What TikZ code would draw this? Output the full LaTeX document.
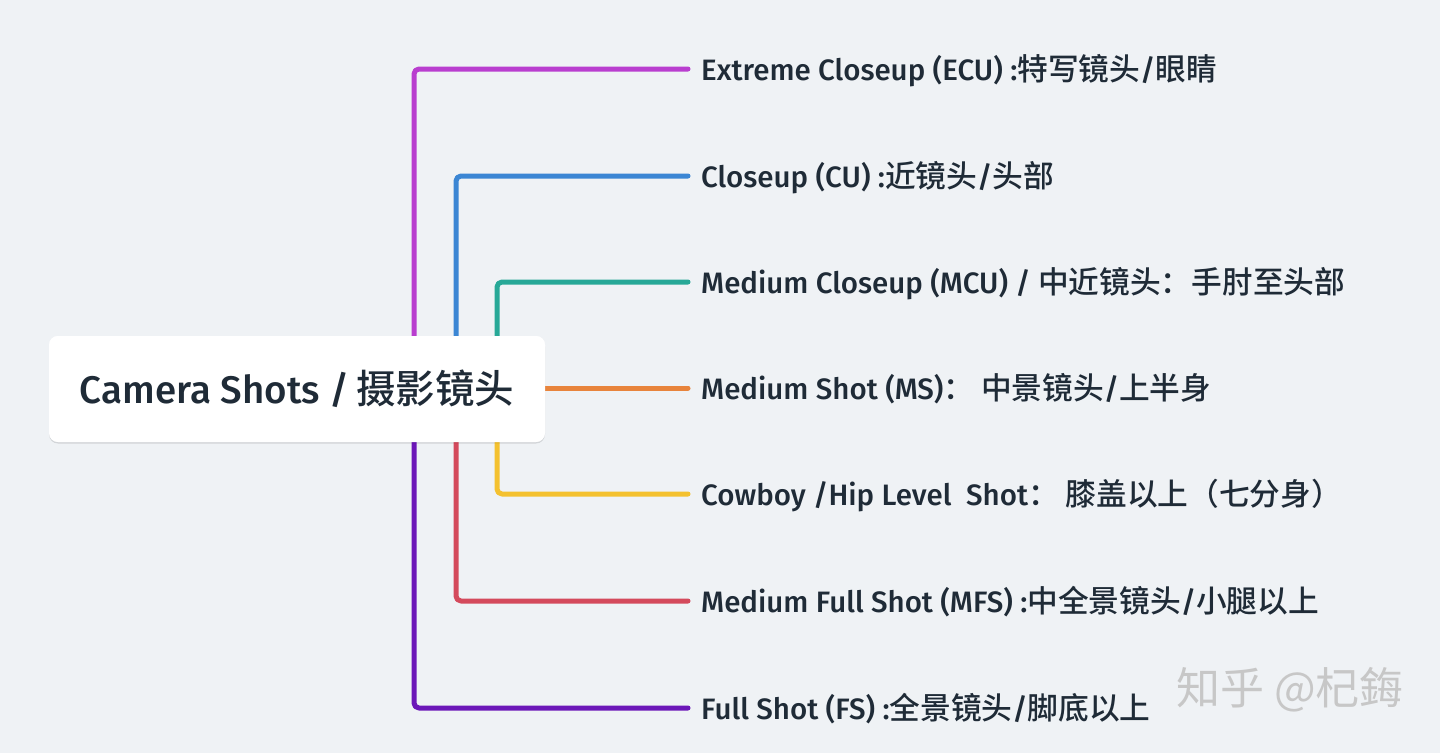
\documentclass[tikz,border=0pt]{standalone}
\usepackage{fontspec}
\setmainfont{Fira Sans}[UprightFont={* Medium}]
\newfontfamily\cjk{Noto Sans CJK SC}[UprightFont={* Medium}]
\newfontfamily\cjkwm{Noto Sans CJK SC}
\usetikzlibrary{shadows}
\definecolor{bg}{HTML}{EFF2F5}
\definecolor{txt}{HTML}{1F2B37}
\definecolor{cA}{HTML}{B93ECF}
\definecolor{cB}{HTML}{3B86D4}
\definecolor{cC}{HTML}{27A897}
\definecolor{cD}{HTML}{E8843C}
\definecolor{cE}{HTML}{F4C12F}
\definecolor{cF}{HTML}{D44A5C}
\definecolor{cG}{HTML}{6C17B8}
\newcommand\zh[1]{{\cjk\fontsize{30.7}{34}\selectfont #1}}
\newcommand\zhroot[1]{{\cjk\fontsize{39.5}{44}\selectfont #1}}
\tikzset{
  lbl/.style={anchor=base west, inner sep=0pt, text=txt, font=\fontsize{29.5}{34}\selectfont},
  branch/.style={line width=5pt, line cap=round, line join=round, rounded corners=5pt},
  rootbox/.style={fill=white, rounded corners=9pt, minimum width=496pt, minimum height=106pt,
    inner sep=0pt, text=txt, font=\fontsize{38.5}{44}\selectfont,
    drop shadow={shadow xshift=0pt, shadow yshift=-1.5pt, opacity=0.06, fill=black}}
}
\begin{document}
\begin{tikzpicture}[x=1pt,y=-1pt]
\fill[bg] (0,0) rectangle (1440,753);
\useasboundingbox (0,0) rectangle (1440,753);
\node[rootbox] (root) at (297,389) {Camera Shots /\,\zhroot{摄影镜头}};
\coordinate (xa) at (414,0);
\coordinate (xb) at (456,0);
\coordinate (xc) at (497,0);
\node[lbl] (l1) at (701,80) {Extreme Closeup (ECU) :\zh{特写镜头}/\zh{眼睛}};
\node[lbl] (l2) at (701,187) {Closeup (CU) :\zh{近镜头}/\zh{头部}};
\node[lbl] (l3) at (701,293) {Medium Closeup (MCU) / \zh{中近镜头：手肘至头部}};
\node[lbl] (l4) at (701,399) {Medium Shot (MS)\zh{： 中景镜头}/\zh{上半身}};
\node[lbl] (l5) at (701,505) {Cowboy /Hip Level\ \ Shot\zh{： 膝盖以上（七分身）}};
\node[lbl] (l6) at (701,612) {Medium Full Shot (MFS) :\zh{中全景镜头}/\zh{小腿以上}};
\node[lbl] (l7) at (701,719) {Full Shot (FS) :\zh{全景镜头}/\zh{脚底以上}};
\coordinate (e1) at (688,69);
\coordinate (e2) at (688,176);
\coordinate (e3) at (688,282);
\coordinate (e4) at (688,388);
\coordinate (e5) at (688,494);
\coordinate (e6) at (688,601);
\coordinate (e7) at (688,708);
\draw[branch, cA] (root.north -| xa) |- (e1);
\draw[branch, cB] (root.north -| xb) |- (e2);
\draw[branch, cC] (root.north -| xc) |- (e3);
\draw[branch, cD] (root.east |- e4) -- (e4);
\draw[branch, cE] (root.south -| xc) |- (e5);
\draw[branch, cF] (root.south -| xb) |- (e6);
\draw[branch, cG] (root.south -| xa) |- (e7);
\node[rootbox] at (root) {Camera Shots /\,\zhroot{摄影镜头}};
\node[anchor=center, inner sep=0pt, text=black!22, font=\cjkwm\fontsize{44}{50}\selectfont] (wm) at (1290,690) {知乎 @杞鋂};
\end{tikzpicture}
\end{document}
